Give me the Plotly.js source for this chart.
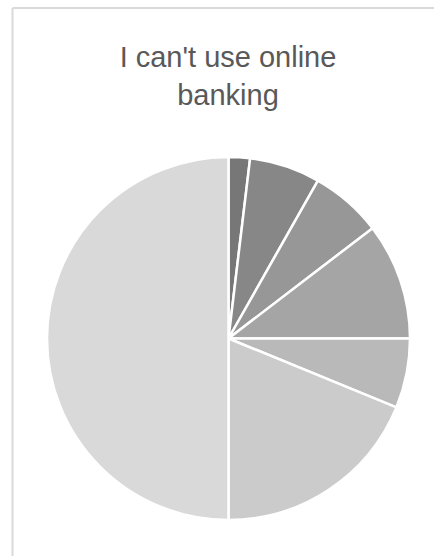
<!DOCTYPE html>
<html>
<head>
<meta charset="utf-8">
<script src="https://cdn.plot.ly/plotly-3.0.1.min.js"></script>
<style>html,body{margin:0;padding:0;background:#fff;}#chart{width:434px;height:556px;}</style>
</head>
<body>
<div id="chart"></div>
<script>
const categories = ["A", "B", "C", "D", "E", "F", "G"];
const values = [1.9, 6.3, 6.4, 10.4, 6.2, 18.8, 50.0];
const sliceColors = ["#777777", "#878787", "#979797", "#a5a5a5", "#b9b9b9", "#cbcbcb", "#d9d9d9"];
const titleText = "I can't use online<br>banking";

const W = 434, H = 556;
const trace = {
  type: "pie",
  labels: categories,
  values: values,
  sort: false,
  direction: "clockwise",
  rotation: 0,
  textinfo: "none",
  hoverinfo: "none",
  marker: { colors: sliceColors, line: { color: "#ffffff", width: 2.5 } },
  domain: { x: [47 / W, 410 / W], y: [36 / H, 399 / H] },
  showlegend: false
};
const layout = {
  width: W, height: H,
  margin: { l: 0, r: 0, t: 0, b: 0 },
  paper_bgcolor: "#ffffff",
  title: {
    text: titleText,
    x: 228 / W, xanchor: "center",
    y: 1 - 67 / H, yanchor: "top",
    font: { family: "Arial, Liberation Sans, sans-serif", size: 29, color: "#595959" }
  },
  shapes: [
    { type: "line", xref: "paper", yref: "paper", x0: 12.5 / W, x1: 12.5 / W, y0: 0, y1: 1 - 8 / H, line: { color: "#d9d9d9", width: 2 } },
    { type: "line", xref: "paper", yref: "paper", x0: 12.5 / W, x1: 1, y0: 1 - 8 / H, y1: 1 - 8 / H, line: { color: "#d9d9d9", width: 2 } }
  ]
};
Plotly.newPlot("chart", [trace], layout, { staticPlot: true, displayModeBar: false });
</script>
</body>
</html>
